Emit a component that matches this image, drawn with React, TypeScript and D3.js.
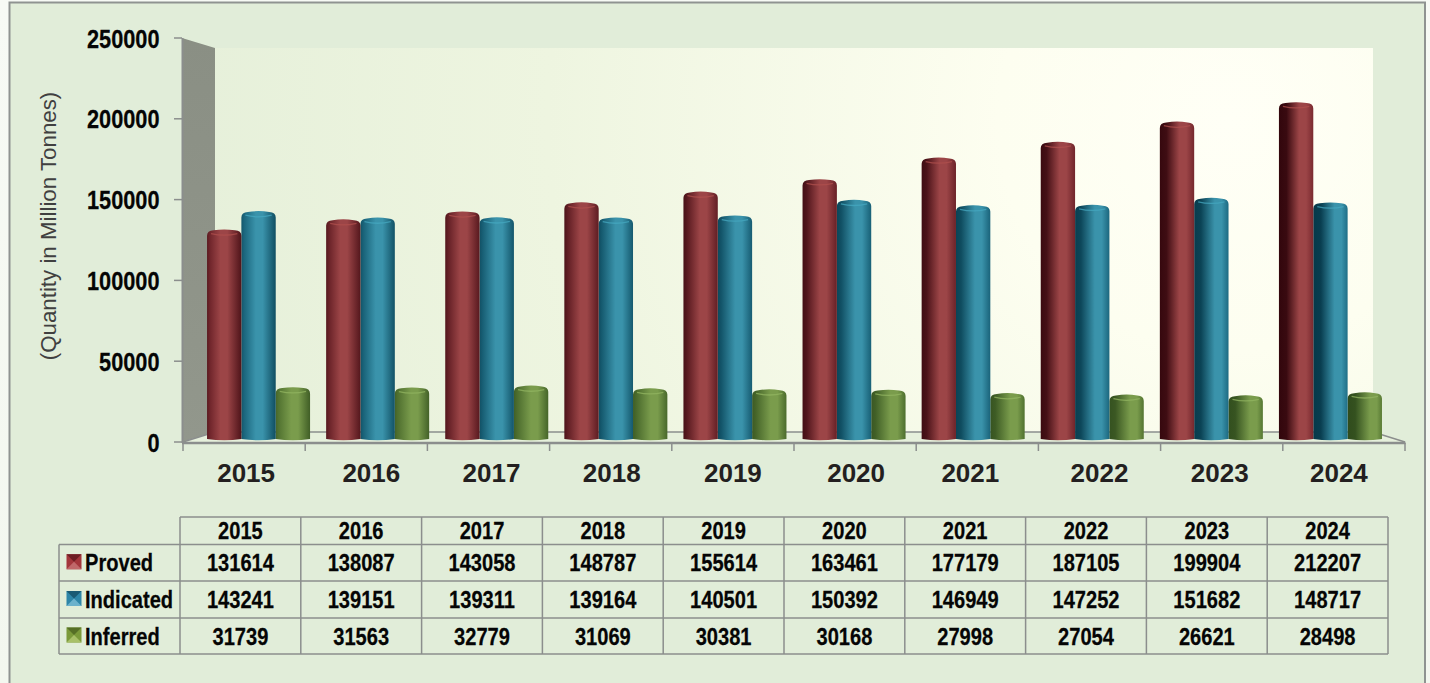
import React from "react";
import * as d3 from "d3";

const years = ["2015","2016","2017","2018","2019","2020","2021","2022","2023","2024"];
const proved = [131614,138087,143058,148787,155614,163461,177179,187105,199904,212207];
const indicated = [143241,139151,139311,139164,140501,150392,146949,147252,151682,148717];
const inferred = [31739,31563,32779,31069,30381,30168,27998,27054,26621,28498];
const seriesNames = ["Proved","Indicated","Inferred"];
const seriesValues = [proved, indicated, inferred];
const yTicks = [0,50000,100000,150000,200000,250000];
const palettes = [
  { dark:"#32060c", mid:"#7a2a30", hi:"#9c4547", edge:"#7c2a30", cap:"#b0504e", top:"#8a3438", key:"#a3363c", keyD:"#6d1e24", keyL:"#c0686a" },
  { dark:"#06394a", mid:"#1f6e86", hi:"#3a93ab", edge:"#1c6a82", cap:"#46a8c0", top:"#2a7e96", key:"#2e86a8", keyD:"#1a5a74", keyL:"#6cb2cc" },
  { dark:"#304c1d", mid:"#587a34", hi:"#7a9c4c", edge:"#567a30", cap:"#93b562", top:"#648a3c", key:"#7b9a3a", keyD:"#566f26", keyL:"#a8c068" },
];
const GREY = "#8b8e8d";
const SANS = "'Liberation Sans',Arial,sans-serif";
const NARROW_X = 0.82;

const axisY = d3.scaleLinear().domain([0,250000]).range([442,38]);
const barY = d3.scaleLinear().domain([0,250000]).range([437.6,42.8]);
const groupX = d3.scaleBand().domain(years).range([199,1390]).paddingInner(0.135).paddingOuter(0.0675);
const tickX = d3.scaleLinear().domain([0,10]).range([183,1405]);
const colX = d3.scaleLinear().domain([0,10]).range([180,1388]);
const rowY = [517,544.5,581,618,654];
const labelNudge = [2,5,3,1,0,1,-7,0,-2,-5];

function cylinder(x:number,w:number,top:number,bottom:number){
  const rx=6.5, ry=6;
  const p=d3.path();
  p.moveTo(x,top+ry);
  p.quadraticCurveTo(x,top+1,x+rx,top+0.6);
  p.quadraticCurveTo(x+w/2,top-1.2,x+w-rx,top+0.6);
  p.quadraticCurveTo(x+w,top+1,x+w,top+ry);
  p.lineTo(x+w,bottom-1);
  p.quadraticCurveTo(x+w/2,bottom+1.5,x,bottom-1);
  p.closePath();
  return p.toString();
}
function rim(x:number,w:number,top:number){
  const p=d3.path();
  p.moveTo(x+4,top+3.8);
  p.quadraticCurveTo(x+w/2,top+7,x+w-4,top+3.8);
  return p.toString();
}

function Narrow({x,y,anchor="middle",size=24.5,children}:{x:number,y:number,anchor?:string,size?:number,children:any}){
  return <text transform={`translate(${x},${y}) scale(${NARROW_X},1)`} textAnchor={anchor} fontFamily={SANS} fontWeight={700} fontSize={size} fill="#050505" stroke="#050505" strokeWidth={0.25}>{children}</text>;
}

export default function App(){
  const barW = groupX.bandwidth()/3;
  const rows = seriesNames.map((n,i)=>({n,i,vals:seriesValues[i]}));
  return (
    <svg width={1430} height={683} style={{position:"absolute",left:0,top:0,display:"block"}}>
      <defs>
        <linearGradient id="page" x1="0" x2="0" y1="0" y2="1">
          <stop offset="0" stopColor="#f7faf5"/><stop offset="1" stopColor="#f3f7ef"/>
        </linearGradient>
        <radialGradient id="wall" gradientUnits="userSpaceOnUse" cx={1230} cy={120} r={1050}>
          <stop offset="0" stopColor="#fffff6"/>
          <stop offset="0.22" stopColor="#fdfef0"/>
          <stop offset="0.65" stopColor="#eef5e0"/>
          <stop offset="1" stopColor="#e6f0da"/>
        </radialGradient>
        <linearGradient id="side" x1="0" x2="0" y1="0" y2="1">
          <stop offset="0" stopColor="#8a8f84"/><stop offset="1" stopColor="#92978c"/>
        </linearGradient>
        {palettes.map((c,s)=>years.map((y,i)=>{
          const f=i/9;
          const hi=0.42+0.2*f+(s-1)*0.03;
          return (
            <linearGradient key={y+s} id={`g${s}-${i}`} x1="0" x2="1" y1="0" y2="0">
              <stop offset="0" stopColor={d3.interpolateRgb(c.mid,c.dark)(0.45+0.55*f)}/>
              <stop offset={Math.max(0.08,0.22*f)} stopColor={d3.interpolateRgb(c.mid,c.dark)(0.15+0.75*f)}/>
              <stop offset={hi} stopColor={c.hi}/>
              <stop offset={Math.min(0.95,hi+0.2)} stopColor={c.hi}/>
              <stop offset="1" stopColor={d3.interpolateRgb(c.mid,c.dark)(0.6*(1-f))}/>
            </linearGradient>
          );
        }))}
      </defs>

      <rect x={0} y={0} width={1430} height={683} fill="url(#page)"/>
      <rect x={9.5} y={2.5} width={1415.5} height={700} fill="#e1edd9" stroke="#8f9391" strokeWidth={2}/>

      {/* back wall */}
      <rect x={215} y={48} width={1158} height={384} fill="url(#wall)"/>
      {/* side wall */}
      <polygon points={`182,38 215,48 215,432 182,442`} fill="url(#side)"/>
      {/* floor */}
      <polygon points="183,442 215,432 1373,432 1405,442" fill="#e6f0dc"/>
      <polyline points="183,442 215,432 1373,432 1405,442" fill="none" stroke={GREY} strokeWidth={1.5}/>
      {/* axes */}
      <line x1={182.5} x2={182.5} y1={38} y2={443} stroke={GREY} strokeWidth={2}/>
      <line x1={182} x2={1405.5} y1={443} y2={443} stroke={GREY} strokeWidth={2.5}/>
      {yTicks.map(t=>(
        <g key={t}>
          <line x1={174} x2={182} y1={axisY(t)} y2={axisY(t)} stroke={GREY} strokeWidth={1.5}/>
          <Narrow x={159.5} y={axisY(t)+9.5} anchor="end" size={26.5}>{t}</Narrow>
        </g>
      ))}
      {d3.range(11).map(i=>(
        <line key={i} x1={tickX(i)} x2={tickX(i)} y1={443} y2={451} stroke={GREY} strokeWidth={1.5}/>
      ))}
      {years.map((y,i)=>(
        <text key={y} x={tickX(i+0.5)+labelNudge[i]} y={481.5} textAnchor="middle" fontFamily={SANS} fontWeight={700} fontSize={26} fill="#231f20">{y}</text>
      ))}
      <text transform="translate(55.5,226) rotate(-90)" textAnchor="middle" fontFamily={SANS} fontSize={22.3} fill="#404040">(Quantity in Million Tonnes)</text>

      {/* bars */}
      {years.map((y,i)=>(
        <g key={y}>
          {[2,1,0].map(s=>{
            const x=(groupX(y) as number)+s*barW;
            const top=barY(seriesValues[s][i]);
            const c=palettes[s];
            return (
              <g key={s}>
                <path d={cylinder(x,barW,top,440)} fill={`url(#g${s}-${i})`}/>
                <path d={rim(x,barW,top)} fill="none" stroke={c.cap} strokeWidth={1.3} opacity={0.75}/>
              </g>
            );
          })}
        </g>
      ))}

      {/* table */}
      <g stroke={GREY} strokeWidth={1.5} fill="none">
        <line x1={colX(0)} x2={colX(10)} y1={rowY[0]} y2={rowY[0]}/>
        {rowY.slice(1).map(r=><line key={r} x1={59} x2={colX(10)} y1={r} y2={r}/>)}
        <line x1={59} x2={59} y1={rowY[1]} y2={rowY[4]}/>
        {d3.range(11).map(i=><line key={i} x1={colX(i)} x2={colX(i)} y1={rowY[0]} y2={rowY[4]}/>)}
      </g>
      {years.map((y,i)=><Narrow key={y} x={colX(i+0.5)} y={539}>{y}</Narrow>)}
      {rows.map(r=>r.vals.map((v,i)=>(
        <Narrow key={r.n+i} x={colX(i+0.5)} y={(rowY[r.i+1]+rowY[r.i+2])/2+8.5}>{v}</Narrow>
      )))}
      {rows.map(r=>{
        const c=palettes[r.i];
        const ky=(rowY[r.i+1]+rowY[r.i+2])/2-8.5;
        const kx=66.5, k=15;
        const mx=kx+k/2,my=ky+k/2;
        return (
          <g key={r.n}>
            <rect x={kx} y={ky} width={k} height={k} fill={c.key}/>
            <polygon points={`${kx},${ky} ${kx+k},${ky} ${mx},${my}`} fill={c.keyD}/>
            <polygon points={`${kx},${ky+k} ${kx+k},${ky+k} ${mx},${my}`} fill={c.keyL}/>
            <Narrow x={85} y={ky+17} anchor="start">{r.n}</Narrow>
          </g>
        );
      })}
    </svg>
  );
}
